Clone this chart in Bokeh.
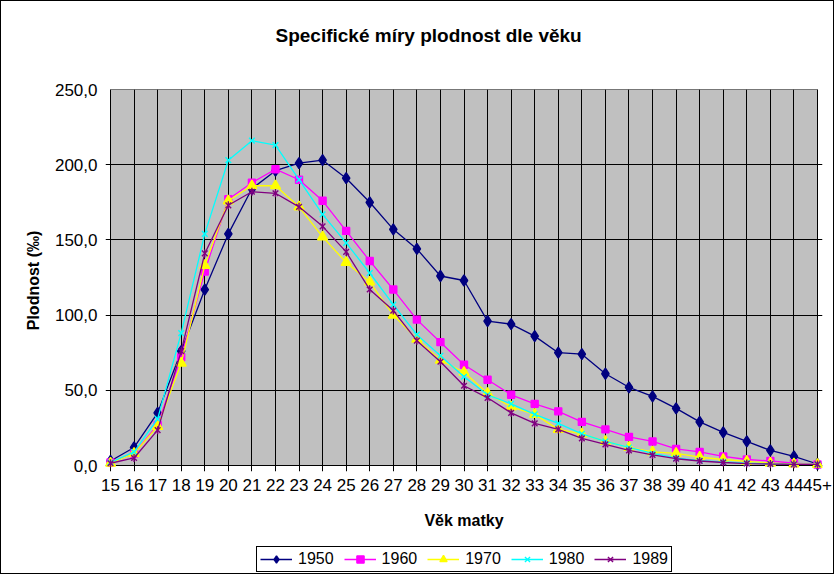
import math
from bokeh.plotting import figure
from bokeh.layouts import column
from bokeh.models import FixedTicker, Range1d, Legend, LegendItem, Title
from bokeh.core.properties import value
from bokeh.embed import file_html
from bokeh.resources import INLINE

# ---- data -------------------------------------------------------------
ages = ["15", "16", "17", "18", "19", "20", "21", "22", "23", "24", "25", "26",
        "27", "28", "29", "30", "31", "32", "33", "34", "35", "36", "37", "38",
        "39", "40", "41", "42", "43", "44", "45+"]

y1950 = [3.0, 12.0, 35.0, 76.0, 117.0, 154.0, 184.0, 196.0, 201.0, 203.0, 191.0, 175.0,
         157.0, 144.0, 126.0, 123.0, 96.0, 94.0, 86.0, 75.0, 74.0, 61.0, 52.0, 46.0,
         38.0, 29.0, 22.0, 16.0, 10.0, 6.0, 1.0]
y1960 = [2.0, 8.0, 27.0, 72.0, 129.0, 177.0, 188.0, 197.0, 190.0, 176.0, 156.0, 136.0,
         117.0, 97.0, 82.0, 67.0, 57.0, 47.0, 41.0, 36.0, 29.0, 24.0, 19.0, 16.0,
         11.0, 9.0, 6.0, 4.0, 3.0, 1.5, 0.7]
y1970 = [1.5, 8.0, 26.0, 68.0, 133.0, 176.0, 186.0, 186.0, 172.0, 152.0, 135.0, 122.0,
         100.0, 84.0, 70.0, 62.0, 48.0, 39.0, 34.0, 24.0, 21.0, 16.0, 12.0, 9.0,
         8.0, 5.5, 4.0, 2.7, 1.6, 1.0, 0.7]
y1980 = [2.0, 9.0, 31.0, 88.0, 154.0, 203.0, 216.0, 213.0, 190.0, 167.0, 148.0, 128.0,
         107.0, 87.0, 73.0, 59.0, 47.0, 41.0, 34.0, 28.0, 21.0, 16.0, 12.0, 8.0,
         5.0, 3.3, 2.4, 1.6, 1.1, 0.8, 0.7]
y1989 = [1.5, 5.0, 23.5, 76.0, 141.0, 173.0, 182.0, 181.0, 172.0, 159.0, 142.0, 117.0,
         103.0, 83.0, 69.0, 53.0, 45.0, 35.0, 28.0, 24.0, 18.0, 14.0, 10.0, 7.0,
         4.5, 3.0, 2.0, 1.3, 1.0, 0.8, 0.7]

years = ["1950", "1960", "1970", "1980", "1989"]
y_ticks = [0, 50, 100, 150, 200, 250]
y_tick_labels = ["0,0", "50,0", "100,0", "150,0", "200,0", "250,0"]

title_text = "Specifické míry plodnost dle věku"
x_title = "Věk matky"
y_title = "Plodnost (‰)"

# ---- styling ----------------------------------------------------------
FONT = "Liberation Sans"
colors = ["#000080", "#FF00FF", "#FFFF00", "#00FFFF", "#800080"]
markers = ["diamond", "square", "triangle", "x", "x"]
msizes = [11, 7, 10, 8, 8]

idx = list(range(len(ages)))
n = len(ages) - 1
padx = 5 * n / 707.0
pady = 6 * (y_ticks[-1] - y_ticks[0]) / 376.0

W = 832
p = figure(width=W, height=545, output_backend="svg", toolbar_location=None,
           x_range=Range1d(idx[0] - padx, idx[-1] + padx),
           y_range=Range1d(y_ticks[0] - pady, y_ticks[-1]),
           min_border_left=104, min_border_right=11, min_border_top=88,
           min_border_bottom=75)

p.background_fill_color = "white"
p.border_fill_color = "white"
p.outline_line_color = None

# titles: spacer right above the frame, then the real title further out
p.title.text = ""
p.add_layout(Title(text=" ", text_font_size="33px", standoff=0), "above")
p.add_layout(Title(text=title_text, align="left", offset=170, text_font=FONT,
                   text_font_size="19px", text_font_style="bold",
                   text_color="black"), "above")

# plot area background
p.quad(left=idx[0], right=idx[-1], bottom=y_ticks[0], top=y_ticks[-1],
       fill_color="#C0C0C0", line_color="black", line_width=1, level="image")

# axes
xt = FixedTicker(ticks=idx)
yt = FixedTicker(ticks=y_ticks)
p.xaxis.ticker = xt
p.yaxis.ticker = yt
p.xaxis.major_label_overrides = {i: a for i, a in zip(idx, ages)}
p.yaxis.major_label_overrides = {v: s for v, s in zip(y_ticks, y_tick_labels)}
for ax in (p.xaxis[0], p.yaxis[0]):
    ax.axis_line_color = None
    ax.major_tick_line_color = None
    ax.minor_tick_line_color = None
    ax.major_tick_in = 0
    ax.major_tick_out = 0
    ax.major_label_text_font = FONT
    ax.major_label_text_font_size = "17px"
    ax.major_label_text_color = "black"
    ax.axis_label_text_font = FONT
    ax.axis_label_text_font_size = "16px"
    ax.axis_label_text_font_style = "bold"
    ax.axis_label_text_color = "black"
p.xaxis.axis_label = x_title
p.yaxis.axis_label = y_title
p.xaxis.major_label_standoff = 7
p.yaxis.major_label_standoff = 8
p.xaxis.axis_label_standoff = 18
p.yaxis.axis_label_standoff = 10

# grid
p.xgrid.ticker = xt
p.ygrid.ticker = yt
for g in (p.xgrid[0], p.ygrid[0]):
    g.grid_line_color = "black"
    g.grid_line_width = 1
    g.grid_line_alpha = 1.0

# legend strip (separate small figure under the chart)
lf = figure(width=W, height=27, output_backend="svg", toolbar_location=None,
            x_range=Range1d(0, 1), y_range=Range1d(0, 1),
            x_axis_type=None, y_axis_type=None,
            min_border_left=0, min_border_right=0, min_border_top=0, min_border_bottom=0)
lf.grid.visible = False
lf.outline_line_color = None
lf.background_fill_color = "white"
lf.border_fill_color = "white"

# series
series = [y1950, y1960, y1970, y1980, y1989]
items = []
for k, (yr, vals) in enumerate(zip(years, series)):
    c = colors[k]
    p.line(x=idx, y=vals, line_color=c, line_width=1.3)
    p.scatter(x=idx, y=vals, marker=markers[k], size=msizes[k],
              fill_color=c, line_color=c, line_width=1.4)
    if k == 4:
        p.scatter(x=idx, y=vals, marker="dash", size=msizes[k], angle=math.pi / 2,
                  line_color=c, line_width=1.4)
    # legend swatches: same series and styles, hidden in the strip itself
    rs = [lf.line(x=idx, y=vals, line_color=c, line_width=1.3, visible=False),
          lf.scatter(x=idx, y=vals, marker=markers[k], size=msizes[k],
                     fill_color=c, line_color=c, line_width=1.4, visible=False)]
    if k == 4:
        rs.append(lf.scatter(x=idx, y=vals, marker="dash", size=msizes[k],
                             angle=math.pi / 2, line_color=c, line_width=1.4,
                             visible=False))
    items.append(LegendItem(label=value(yr), renderers=rs))

legend = Legend(items=items, orientation="horizontal", location=(151, 1),
                border_line_color="black", border_line_width=1, border_line_alpha=1,
                background_fill_color="white", background_fill_alpha=1,
                inactive_fill_alpha=0.0,
                label_text_font=FONT, label_text_font_size="16px", label_text_color="black",
                glyph_width=32, glyph_height=18, label_height=18, label_standoff=6,
                spacing=10, padding=3, margin=0)
lf.add_layout(legend)

layout = column(p, lf, spacing=0, styles={"border": "1px solid black"})

open("out.html", "w").write(file_html(layout, INLINE))
